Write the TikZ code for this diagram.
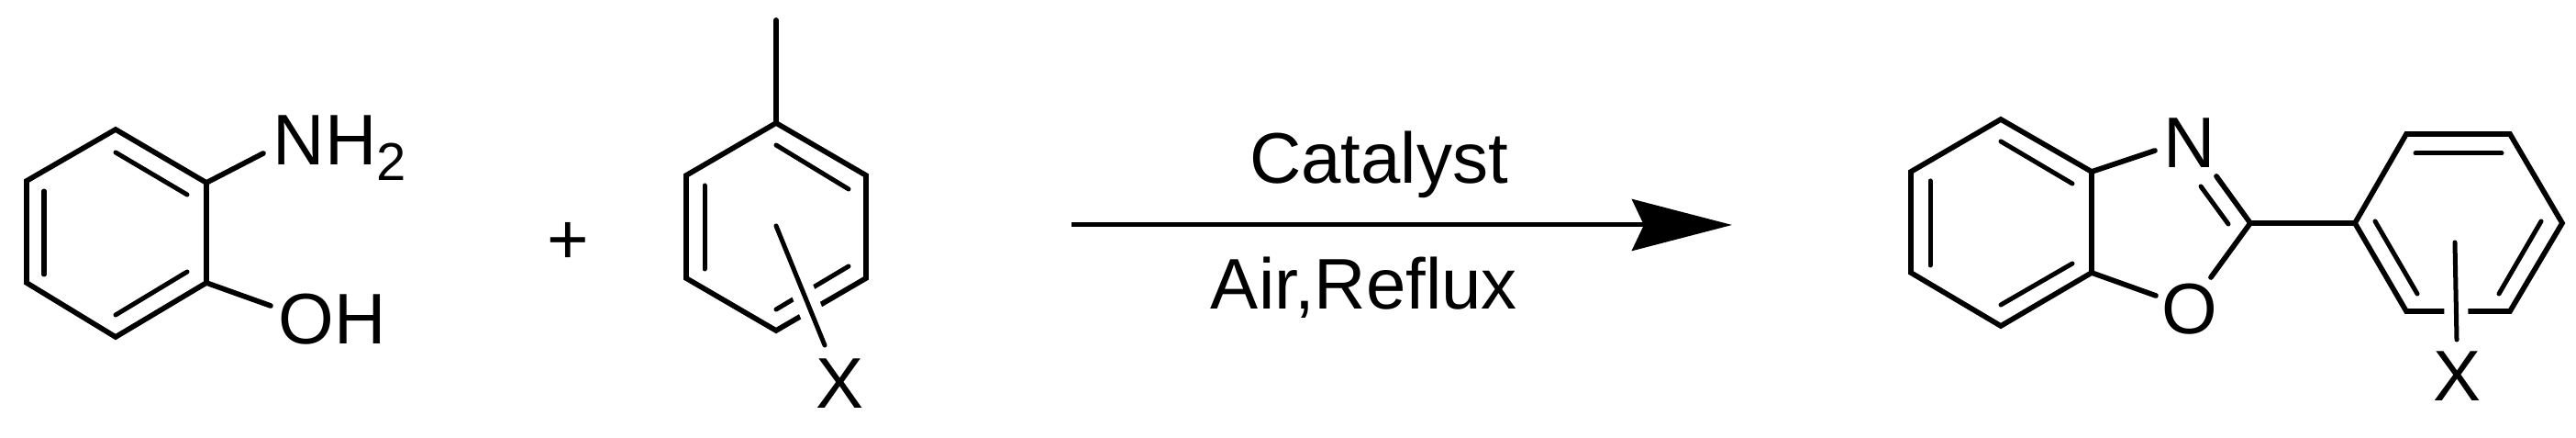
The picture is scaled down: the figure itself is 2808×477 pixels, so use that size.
\documentclass[tikz,border=0pt]{standalone}
\usepackage{fontspec}
\setmainfont{Liberation Sans}
\usetikzlibrary{arrows.meta,positioning}

\begin{document}
\begin{tikzpicture}[
  x = 0.01cm, y = -0.01cm,
  bond/.style = {line width=0.057cm, line join=miter},
  inner/.style = {line width=0.05cm, line cap=round},
  halo/.style = {white, line width=0.26cm},
  atom/.style = {inner sep=0pt, anchor=base, font=\fontsize{22.2}{24}\selectfont}
]
\useasboundingbox (0,0) rectangle (2808,477);

% ring vertices and free bond ends
\foreach \name/\x/\y in {
  a1/126/141, a2/225/199, a3/225/308, a4/126/367, a5/29/308, a6/29/197,
  anh/287/167, aoh/295/333,
  b1/846/134, b2/944/191, b3/944/303, b4/846/360, b5/748/303, b6/748/191,
  bme/846/22, bin/846/246, bout/899/376,
  c1/2181/130, c2/2280/187, c3/2280/297, c4/2181/355, c5/2083/297, c6/2083/187,
  cn/2349/164, co/2350/322, cc/2453/243, cno/2416/192, coo/2410/302,
  d1/2567/243, d2/2623/146, d3/2736/146, d4/2793/243, d5/2736/339, d6/2623/339,
  din/2676/264, dout/2678/370,
  start/1168/245, tip/1888/245}
  \coordinate (\name) at (\x,\y);

% outer rings
\draw[bond] (a1) -- (a2) -- (a3) -- (a4) -- (a5) -- (a6) -- cycle;
\draw[bond] (b1) -- (b2) -- (b3) -- (b4) -- (b5) -- (b6) -- cycle;
\draw[bond] (c1) -- (c2) -- (c3) -- (c4) -- (c5) -- (c6) -- cycle;
\draw[bond] (d1) -- (d2) -- (d3) -- (d4) -- (d5) -- (d6) -- cycle;

% second line of the double bonds
\foreach \xa/\ya/\xb/\yb in {
  126/166/204/212, 126/343/204/296, 48/208/48/299,
  846/158/925/206, 768/202/768/293, 925/290/846/337,
  2181/154/2259/200, 2259/287/2181/332, 2104/197/2104/289,
  2399/203/2429/244,
  2633/167/2727/167, 2589/241/2635/320, 2770/241/2724/320}
  \draw[inner] (\xa,\ya) -- (\xb,\yb);

% single bonds
\foreach \from/\to in {a2/anh, a3/aoh, b1/bme, c2/cn, c3/co, cc/cno, cc/coo, cc/d1}
  \draw[bond, line cap=round] (\from) -- (\to);

% substituent lines cross the rings
\draw[halo] (bin) -- (bout);
\draw[inner] (bin) -- (bout);
\draw[halo] (din) -- (dout);
\draw[inner] (din) -- (dout);

\node[atom, anchor=base west] (nh) at (297,180) {NH\raisebox{-0.17cm}{\fontsize{16.5}{18}\selectfont 2}};
\node[atom, anchor=base west] (oh) at (303,375) {OH};
\node[atom] (plus) at (619,288) {+};
\node[atom] (xb) at (916,445) {X};
\node[atom] (n) at (2387,183) {N};
\node[atom] (o) at (2387,364) {O};
\node[atom] (xd) at (2679,437) {X};
\node[atom] (cat) at (1503,200) {Catalyst};
\node[atom] (air) at (1487,337) {Air,Reflux};

\draw[-{Stealth[length=1.09cm, width=0.56cm, inset=0.13cm]}, line width=0.05cm] (start) -- (tip);
\end{tikzpicture}
\end{document}
